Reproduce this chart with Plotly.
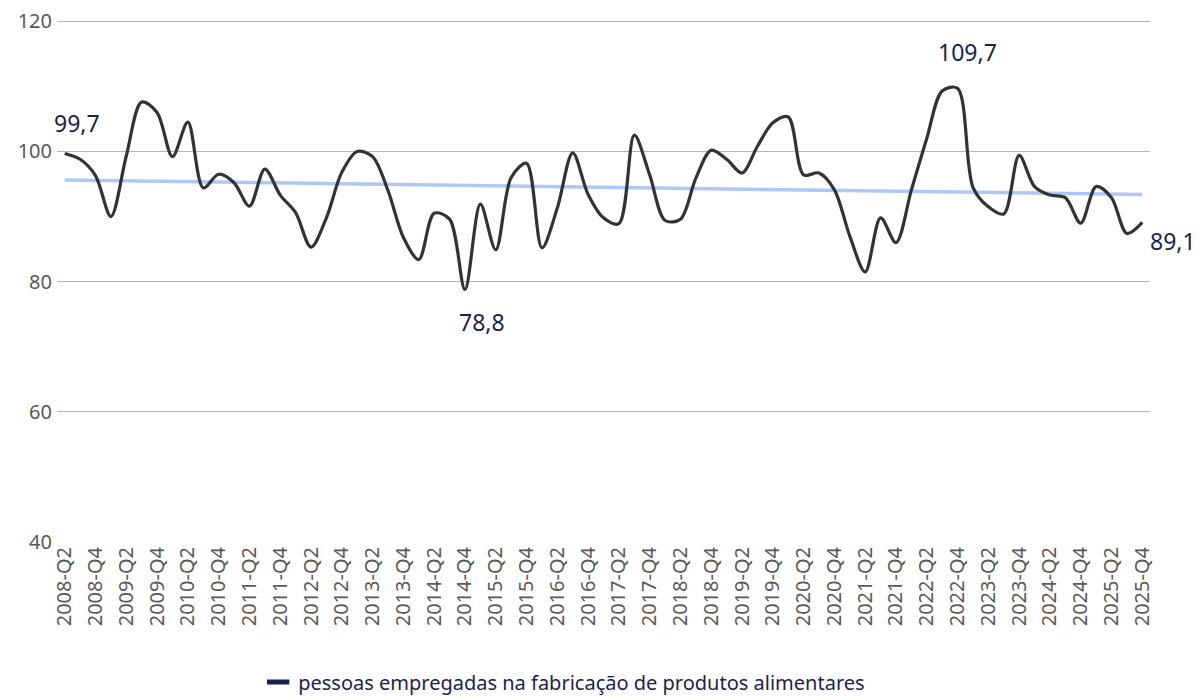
import numpy as np
import plotly.graph_objects as go

quarters = [f"{y}-Q{q}" for y in range(2008, 2026) for q in range(1, 5)][1:]
values = [
    99.7, 98.8, 96.3, 90.0, 99.3, 107.6, 106.0, 99.2, 104.5, 94.4,
    96.5, 95.2, 91.6, 97.3, 93.3, 90.6, 85.3, 89.8, 96.8, 100.0,
    99.2, 94.0, 86.8, 83.4, 90.5, 89.6, 78.8, 91.9, 84.9, 96.0,
    98.2, 85.2, 91.3, 99.8, 93.4, 89.8, 88.9, 102.5, 96.4, 89.4,
    89.6, 95.9, 100.2, 98.8, 96.7, 100.8, 104.4, 105.3, 96.4, 96.7,
    94.1, 87.0, 81.5, 89.8, 86.0, 94.1, 102.0, 109.3, 109.7, 94.5,
    91.5, 90.4, 99.4, 94.6, 93.3, 92.9, 89.0, 94.6, 92.9, 87.4,
    89.1,
]
tick_labels = quarters[::2]
y_ticks = [40, 60, 80, 100, 120]
series_name = "pessoas empregadas na fabricação de produtos alimentares"

FONT = "Noto Sans, DejaVu Sans, sans-serif"
NAVY = "#1a2350"

idx = np.arange(len(values))
slope, intercept = np.polyfit(idx, values, 1)
trend = (intercept + slope * idx).tolist()

fig = go.Figure()
fig.add_trace(go.Scatter(
    x=quarters, y=trend, mode="lines",
    line=dict(color="rgba(164,194,244,0.9)", width=3.5),
    showlegend=False, hoverinfo="skip",
))
fig.add_trace(go.Scatter(
    x=quarters, y=values, mode="lines",
    line=dict(color="#333333", width=3.2, shape="spline", smoothing=0.9),
    showlegend=False,
))
fig.add_trace(go.Scatter(
    x=[quarters[0]], y=[None], mode="markers", name=series_name,
    marker=dict(symbol="line-ew", size=16, color=NAVY,
                line=dict(color=NAVY, width=6)),
    showlegend=True,
))

def fmt(v):
    return f"{v:.1f}".replace(".", ",")

i_max = int(np.argmax(values))
i_min = int(np.argmin(values))
i_last = len(values) - 1
label_specs = [
    (0, 12, 30, "center", "middle"),
    (i_min, 17, -33, "center", "middle"),
    (i_max, 10, 36, "center", "middle"),
    (i_last, 6, -19, "left", "middle"),
]
for i, dx, dy, xa, ya in label_specs:
    fig.add_annotation(
        x=quarters[i], y=values[i], text=fmt(values[i]),
        showarrow=False, xshift=dx, yshift=dy, xanchor=xa, yanchor=ya,
        font=dict(family=FONT, size=23, color=NAVY),
    )

# the page body has an 8px default margin; size the figure to fit the window
fig.update_layout(
    width=1191, height=688,
    margin=dict(l=49, r=49, t=12, b=154, autoexpand=False),
    paper_bgcolor="white", plot_bgcolor="white",
    font=dict(family=FONT, size=20, color="#595959"),
    showlegend=True,
    legend=dict(
        orientation="h", x=0.464, xanchor="center", y=-0.268, yanchor="middle",
        font=dict(family=FONT, size=20, color=NAVY),
        itemsizing="trace",
    ),
    xaxis=dict(
        type="category", categoryorder="array", categoryarray=quarters,
        range=[-0.5, len(quarters) - 0.5], automargin=False,
        tickmode="array", tickvals=tick_labels, ticktext=tick_labels,
        tickangle=-90, showgrid=False, zeroline=False, showline=False,
        ticks="", ticklen=0,
        tickfont=dict(family=FONT, size=20, color="#595959"),
    ),
    yaxis=dict(
        range=[40, 120.2], tickmode="array", tickvals=y_ticks, automargin=False,
        ticklabeloverflow="allow", ticklabelstandoff=4,
        showgrid=True, gridcolor="#b5b5b5", gridwidth=1.3,
        zeroline=False, showline=False, ticks="",
        tickfont=dict(family=FONT, size=20, color="#595959"),
    ),
)

fig.write_html("out.html")
